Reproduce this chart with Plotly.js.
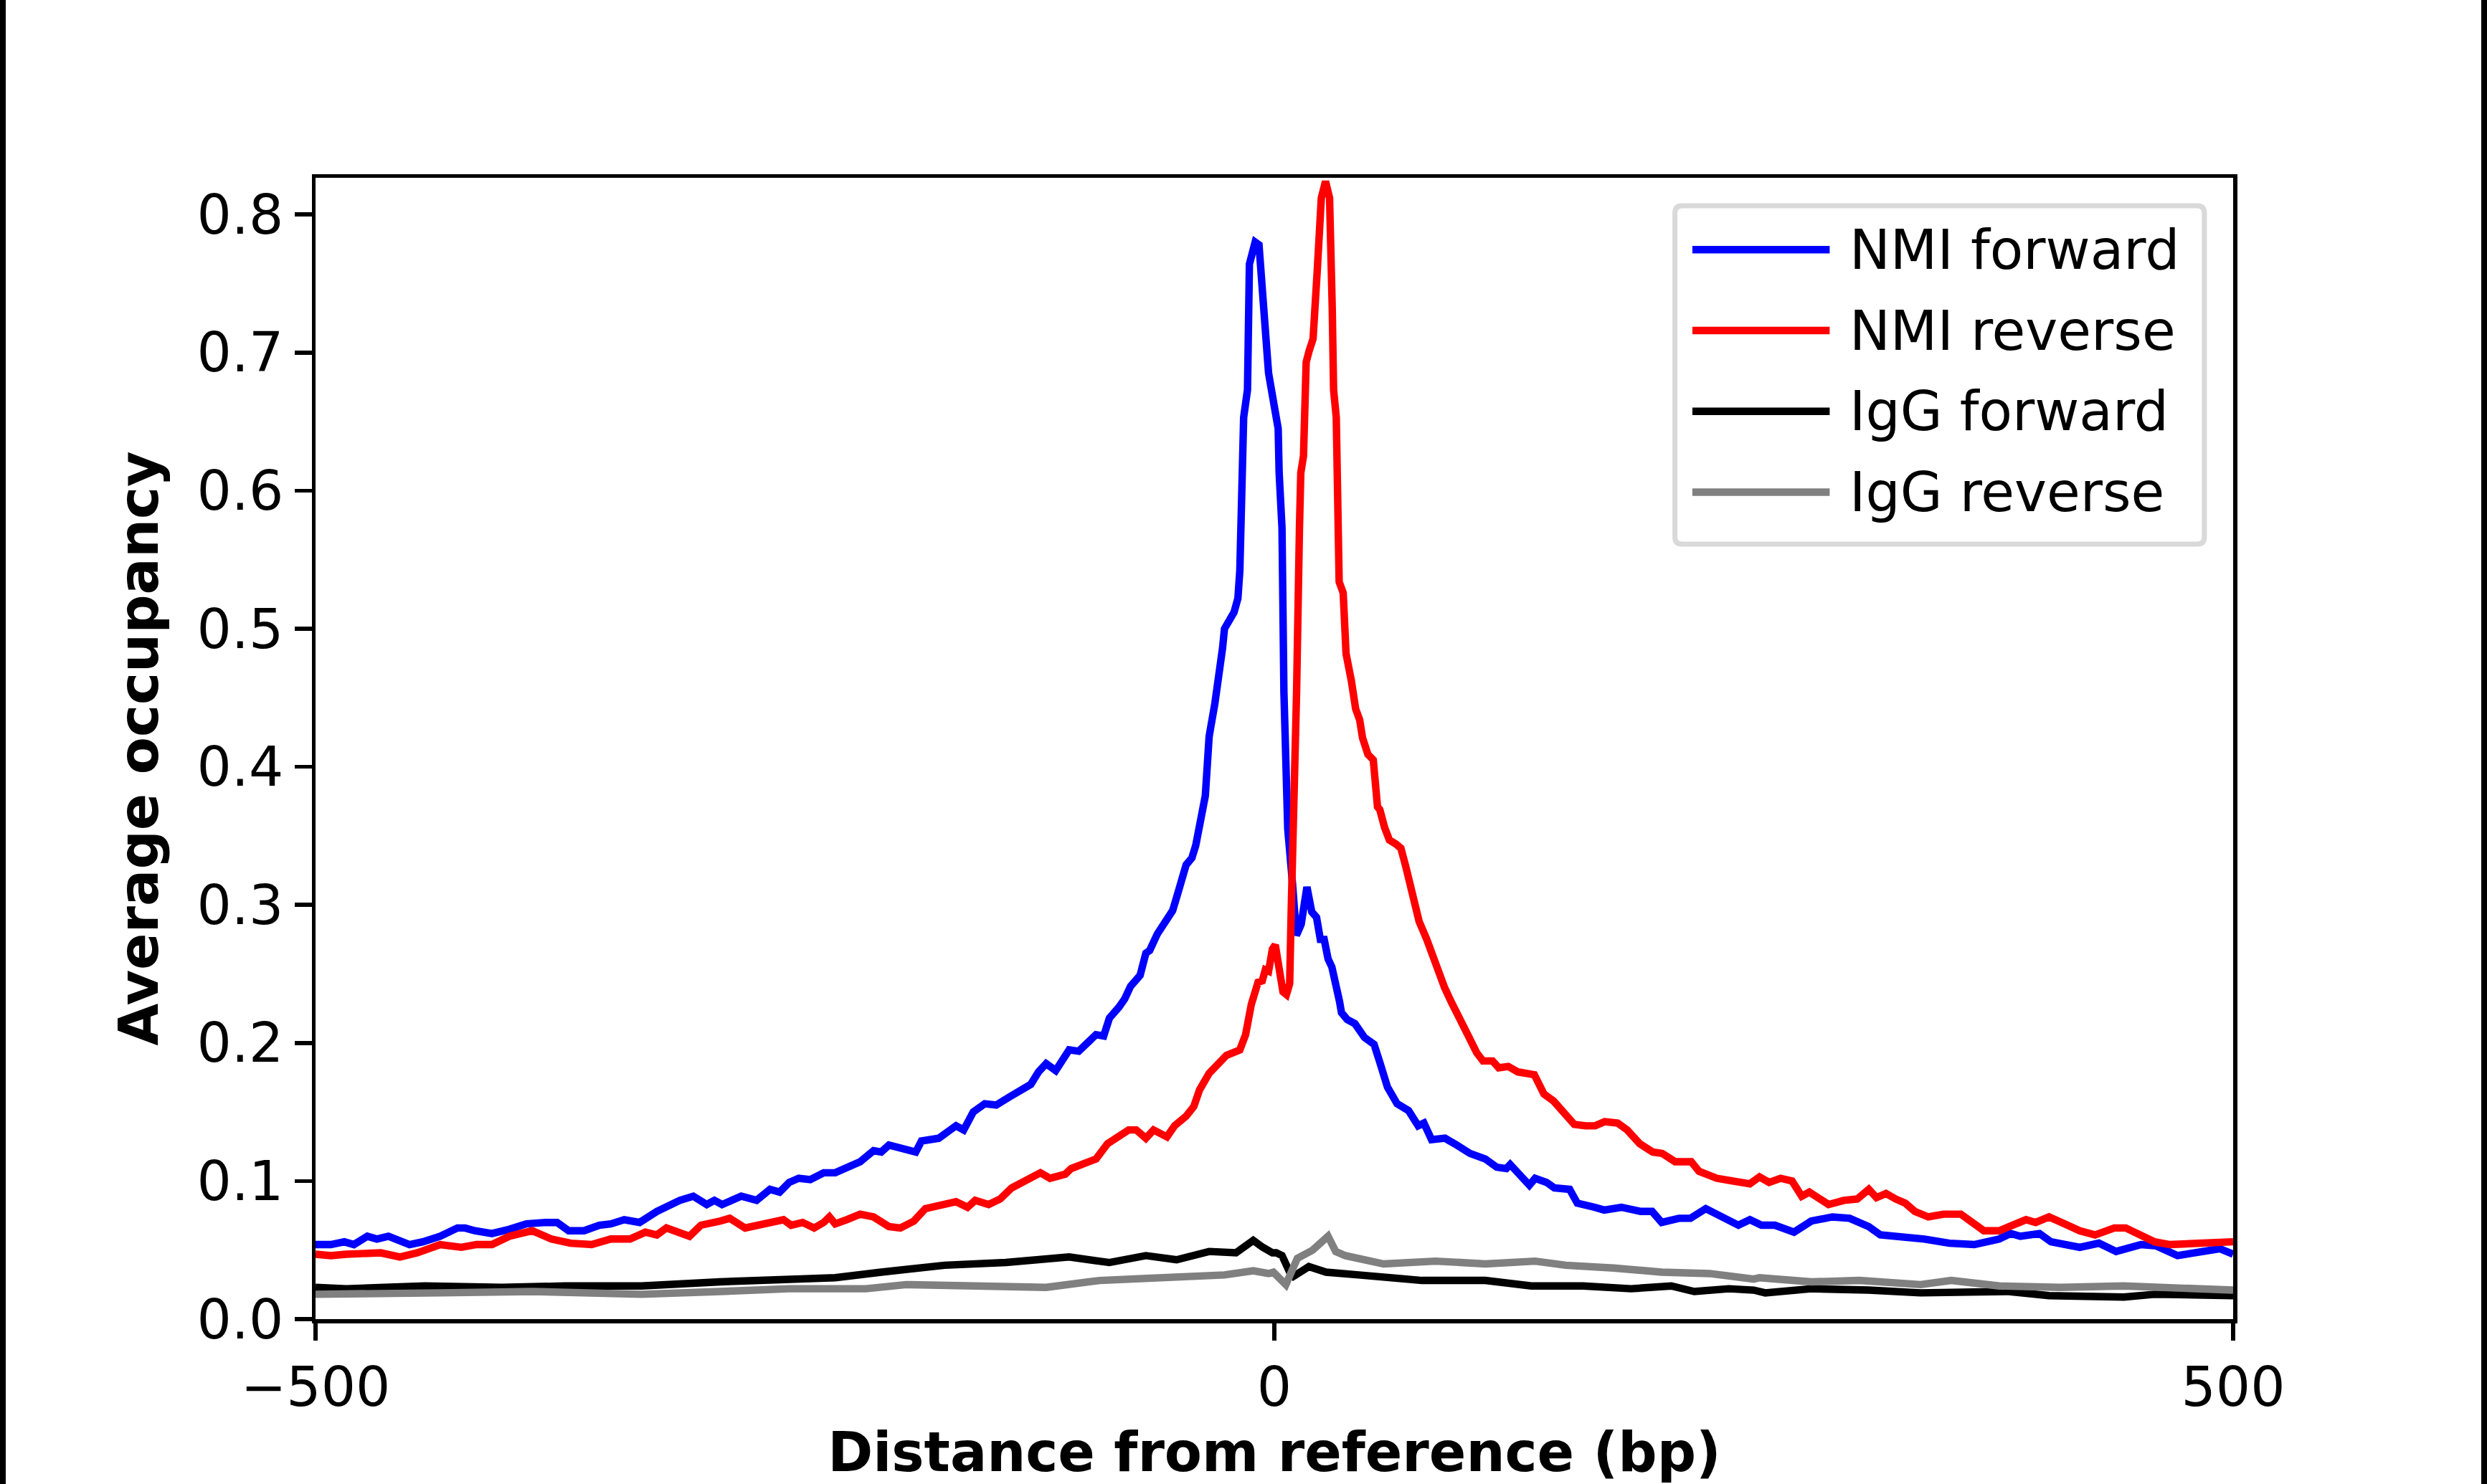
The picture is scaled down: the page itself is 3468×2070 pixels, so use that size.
<!DOCTYPE html>
<html>
<head>
<meta charset="utf-8">
<script src="https://cdn.plot.ly/plotly-3.0.1.min.js"></script>
<style>
  html, body { margin: 0; padding: 0; background: #fff; }
  #frame { width: 3468px; height: 2070px; box-sizing: border-box;
           border-left: 8px solid #000; border-right: 8px solid #000; }
  #chart { width: 3452px; height: 2070px; }
</style>
</head>
<body>
<div id="frame"><div id="chart"></div></div>
<script>
// NMI forward (blue)
nmiFwdX = [-500, -492, -485, -480, -473, -468, -462, -456, -451, -444, -435, -426, -422, -417, -408, -399,
  -390, -380, -374, -368, -360, -352, -346, -339, -331, -322, -310, -303, -296, -292, -288, -278, -270,
  -263, -258, -253, -248, -242, -235, -229, -224, -216, -209, -205, -201, -195, -187, -184, -175, -169,
  -166, -162, -157, -151, -145, -138, -133, -127, -123, -119, -114, -107, -102, -98, -93, -89, -86, -81,
  -78, -75, -70, -67, -65, -61, -56, -53, -50, -48, -46, -43, -41, -36, -34, -31, -29, -27, -26, -24,
  -21, -19, -18, -16, -14, -13, -10, -8, -5, -3, -1, 2, 2.5, 4, 5, 7, 9.5, 11.5, 14, 17, 19.5, 22, 24,
  26, 28, 30, 34, 35, 38, 42, 47, 52, 55, 59, 64, 70, 75, 78, 82, 89, 94, 102, 110, 116, 121, 123, 133,
  136, 142, 146, 154, 158, 167, 172, 181, 191, 197, 202, 211, 217, 225, 234, 242, 248, 254, 261, 271,
  280, 291, 300, 310, 316, 324, 339, 352, 365, 378, 384, 389, 399, 405, 420, 430, 439, 452, 460, 471,
  482, 493, 500];
nmiFwdY = [0.054, 0.054, 0.056, 0.054, 0.060, 0.058, 0.060, 0.057, 0.054, 0.056, 0.060, 0.066, 0.066,
  0.064, 0.062, 0.065, 0.069, 0.070, 0.070, 0.064, 0.064, 0.068, 0.069, 0.072, 0.070, 0.078, 0.086,
  0.089, 0.083, 0.086, 0.083, 0.089, 0.086, 0.094, 0.092, 0.099, 0.102, 0.101, 0.106, 0.106, 0.109,
  0.114, 0.122, 0.121, 0.126, 0.124, 0.121, 0.129, 0.131, 0.137, 0.140, 0.137, 0.150, 0.156, 0.155,
  0.161, 0.165, 0.170, 0.179, 0.185, 0.180, 0.195, 0.194, 0.200, 0.206, 0.205, 0.218, 0.226, 0.232,
  0.241, 0.249, 0.265, 0.267, 0.279, 0.289, 0.296, 0.310, 0.322, 0.329, 0.334, 0.343, 0.379, 0.422,
  0.446, 0.464, 0.486, 0.500, 0.506, 0.512, 0.522, 0.542, 0.653, 0.673, 0.764, 0.780, 0.778, 0.724,
  0.685, 0.669, 0.645, 0.613, 0.573, 0.454, 0.355, 0.315, 0.278, 0.286, 0.313, 0.295, 0.291, 0.275,
  0.275, 0.261, 0.255, 0.230, 0.222, 0.217, 0.214, 0.204, 0.199, 0.186, 0.168, 0.156, 0.151, 0.140,
  0.142, 0.130, 0.131, 0.127, 0.120, 0.116, 0.110, 0.109, 0.112, 0.097, 0.102, 0.099, 0.095, 0.094,
  0.084, 0.081, 0.079, 0.081, 0.078, 0.078, 0.070, 0.073, 0.073, 0.080, 0.073, 0.068, 0.072, 0.068,
  0.068, 0.063, 0.071, 0.074, 0.073, 0.067, 0.061, 0.060, 0.058, 0.055, 0.054, 0.058, 0.062, 0.060,
  0.062, 0.056, 0.052, 0.055, 0.049, 0.054, 0.053, 0.046, 0.048, 0.051, 0.047];

// NMI reverse (red)
nmiRevX = [-500, -492, -484, -474, -466, -456, -447, -435, -424, -416, -408, -399, -387, -377, -367,
  -356, -346, -336, -328, -322, -317, -305, -299, -289, -284, -276, -265, -256, -252, -246, -240, -235,
  -232, -229, -223, -216, -209, -201, -195, -188, -182, -174, -166, -160, -156, -149, -143, -137, -128,
  -122, -117, -109, -106, -98, -93, -87, -81, -76, -72, -67, -63, -56, -52, -46, -42, -39, -34, -29,
  -25, -18, -15, -12, -8.5, -6.3, -4.7, -3, -1, 0.5, 2, 4.5, 6.3, 8, 8.8, 10.2, 11.6, 13.1, 13.8, 15.2,
  16.6, 18.1, 20.2, 22.4, 24.5, 26.7, 28.8, 30.2, 30.9, 32.3, 33.1, 33.8, 35.9, 37.4, 40.2, 42.4, 44.5,
  46, 48.8, 51.6, 53.8, 55, 57.5, 60, 63.5, 66, 68.5, 72, 75.5, 79.5, 82.5, 84.6, 86.8, 88.8, 92.5, 97,
  100.5, 105.5, 108.8, 113.8, 117, 122, 127, 135.6, 140.6, 145.6, 150.6, 156.4, 162.3, 167.3, 172.3,
  179, 184, 190.6, 197.3, 202.3, 209, 217.4, 221.5, 230.7, 239.1, 248, 253, 258, 264, 270, 275, 279,
  289, 297, 304, 310, 314, 319, 324, 329, 334, 341, 349, 358, 363, 370, 378, 386, 392, 397, 404, 412,
  420, 428, 438, 444, 451, 459, 467, 478, 488, 500];
nmiRevY = [0.047, 0.046, 0.047, 0.048, 0.048, 0.045, 0.048, 0.054, 0.052, 0.054, 0.054, 0.060, 0.064,
  0.058, 0.055, 0.054, 0.058, 0.058, 0.063, 0.061, 0.066, 0.060, 0.068, 0.071, 0.073, 0.066, 0.069,
  0.072, 0.068, 0.070, 0.066, 0.070, 0.074, 0.069, 0.072, 0.076, 0.074, 0.067, 0.066, 0.071, 0.080,
  0.083, 0.085, 0.081, 0.086, 0.083, 0.087, 0.095, 0.102, 0.106, 0.102, 0.105, 0.109, 0.114, 0.116,
  0.127, 0.133, 0.137, 0.137, 0.131, 0.137, 0.132, 0.140, 0.147, 0.154, 0.166, 0.178, 0.186, 0.191,
  0.195, 0.206, 0.228, 0.244, 0.245, 0.253, 0.252, 0.268, 0.271, 0.258, 0.237, 0.235, 0.243, 0.296,
  0.414, 0.454, 0.573, 0.613, 0.625, 0.693, 0.701, 0.710, 0.760, 0.812, 0.824, 0.812, 0.732, 0.673,
  0.653, 0.593, 0.534, 0.526, 0.482, 0.462, 0.442, 0.434, 0.421, 0.409, 0.405, 0.371, 0.369, 0.356,
  0.347, 0.344, 0.341, 0.328, 0.308, 0.288, 0.275, 0.263, 0.258, 0.248, 0.240, 0.229, 0.218, 0.207,
  0.193, 0.187, 0.187, 0.182, 0.183, 0.179, 0.177, 0.163, 0.158, 0.150, 0.141, 0.140, 0.140, 0.143,
  0.142, 0.137, 0.127, 0.121, 0.120, 0.114, 0.114, 0.107, 0.102, 0.100, 0.098, 0.103, 0.099, 0.102,
  0.100, 0.089, 0.092, 0.083, 0.086, 0.087, 0.094, 0.088, 0.091, 0.087, 0.084, 0.078, 0.074, 0.076,
  0.076, 0.071, 0.064, 0.064, 0.069, 0.072, 0.070, 0.074, 0.069, 0.064, 0.061, 0.066, 0.066, 0.062,
  0.056, 0.054, 0.055, 0.055, 0.056];

// IgG forward (black)
iggFwdX = [-500, -484, -443, -403, -370, -330, -289, -265, -253, -229, -205, -172, -140, -107, -86, -67,
  -51, -34, -20, -11, -6, -1, 1, 4, 8, 10, 18, 27, 44, 60, 77, 110, 134, 161, 186, 207, 219, 237, 250,
  256, 280, 310, 337, 383, 404, 443, 459, 500];
iggFwdY = [0.023, 0.022, 0.024, 0.023, 0.024, 0.024, 0.027, 0.028, 0.029, 0.030, 0.034, 0.039, 0.041,
  0.045, 0.041, 0.046, 0.043, 0.049, 0.048, 0.057, 0.052, 0.048, 0.048, 0.046, 0.034, 0.031, 0.038,
  0.034, 0.032, 0.030, 0.028, 0.028, 0.024, 0.024, 0.022, 0.024, 0.020, 0.022, 0.021, 0.019, 0.022,
  0.021, 0.019, 0.020, 0.017, 0.016, 0.018, 0.017];

// IgG reverse (grey)
iggRevX = [-500, -476, -435, -387, -330, -289, -253, -213, -192, -156, -119, -91, -59, -26, -11, -3,
  -0.5, 6, 12, 20, 28, 32, 37, 49, 57, 84, 110, 136, 152, 177, 202, 227, 250, 253, 280, 305, 337, 353,
  378, 410, 443, 500];
iggRevY = [0.018, 0.018, 0.019, 0.020, 0.018, 0.020, 0.022, 0.022, 0.025, 0.024, 0.023, 0.028, 0.030,
  0.032, 0.035, 0.033, 0.034, 0.025, 0.044, 0.050, 0.060, 0.049, 0.046, 0.043, 0.040, 0.042, 0.040,
  0.042, 0.039, 0.037, 0.034, 0.033, 0.029, 0.030, 0.027, 0.028, 0.025, 0.028, 0.024, 0.023, 0.024,
  0.021];

seriesNames = ['NMI forward', 'NMI reverse', 'IgG forward', 'IgG reverse'];
seriesColors = ['#0000ff', '#ff0000', '#000000', '#808080'];

xTickVals = [-500, 0, 500];
xTickText = ['\u2212500', '0', '500'];
yTickVals = [0, 0.1, 0.2, 0.3, 0.4, 0.5, 0.6, 0.7, 0.8];

FONT = 'DejaVu Sans, Verdana, sans-serif';
LINE_W = 10.4;

CHART = document.getElementById('chart');
xs = [nmiFwdX, nmiRevX, iggFwdX, iggRevX];
ys = [nmiFwdY, nmiRevY, iggFwdY, iggRevY];
traces = [];
for (var i = 0; i < 4; i++) {
  traces.push({
    x: xs[i],
    y: ys[i],
    type: 'scatter',
    mode: 'lines',
    name: seriesNames[i],
    line: {color: seriesColors[i], width: LINE_W},
  });
}

// matplotlib-style legend box (rounded frame, long line samples), in paper coords
function roundedRect(x0, y0, x1, y1, rx, ry) {
  return 'M' + (x0 + rx) + ',' + y1 +
    ' L' + (x1 - rx) + ',' + y1 + ' Q' + x1 + ',' + y1 + ' ' + x1 + ',' + (y1 - ry) +
    ' L' + x1 + ',' + (y0 + ry) + ' Q' + x1 + ',' + y0 + ' ' + (x1 - rx) + ',' + y0 +
    ' L' + (x0 + rx) + ',' + y0 + ' Q' + x0 + ',' + y0 + ' ' + x0 + ',' + (y0 + ry) +
    ' L' + x0 + ',' + (y1 - ry) + ' Q' + x0 + ',' + y1 + ' ' + (x0 + rx) + ',' + y1 + ' Z';
}
shapes = [{
  type: 'path', xref: 'paper', yref: 'paper', layer: 'above',
  path: roundedRect(0.7089, 0.6790, 0.9850, 0.9755, 0.0037, 0.0063),
  fillcolor: 'rgba(255,255,255,0.8)',
  line: {color: '#d9d9d9', width: 7},
}];
annotations = [];
legendRowY = [0.9370, 0.8662, 0.7954, 0.7246];
for (var k = 0; k < 4; k++) {
  shapes.push({
    type: 'line', xref: 'paper', yref: 'paper', layer: 'above',
    x0: 0.7180, x1: 0.7896, y0: legendRowY[k], y1: legendRowY[k],
    line: {color: seriesColors[k], width: LINE_W},
  });
  annotations.push({
    xref: 'paper', yref: 'paper', x: 0.7990, y: legendRowY[k],
    xanchor: 'left', yanchor: 'middle', showarrow: false,
    text: seriesNames[k],
    font: {family: FONT, size: 76, color: '#000'},
  });
}

layout = {
  width: 3452,
  height: 2070,
  margin: {l: 432, r: 346, t: 248, b: 230, pad: 0},
  paper_bgcolor: '#ffffff',
  plot_bgcolor: '#ffffff',
  font: {family: FONT, size: 76, color: '#000000'},
  showlegend: false,
  shapes: shapes,
  annotations: annotations,
  xaxis: {
    range: [-500, 500],
    tickvals: xTickVals,
    ticktext: xTickText,
    ticks: 'outside', ticklen: 24, tickwidth: 5.5, tickcolor: '#000',
    showline: true, linecolor: '#000', linewidth: 5.5, mirror: true,
    showgrid: false, zeroline: false,
    tickfont: {family: FONT, size: 76, color: '#000'},
    title: {
      text: 'Distance from reference (bp)',
      font: {family: FONT, size: 76, color: '#000', weight: 'bold'},
      standoff: 27,
    },
  },
  yaxis: {
    range: [0, 0.8266],
    tickvals: yTickVals,
    tickformat: '.1f',
    ticks: 'outside', ticklen: 24, tickwidth: 5.5, tickcolor: '#000',
    showline: true, linecolor: '#000', linewidth: 5.5, mirror: true,
    showgrid: false, zeroline: false,
    tickfont: {family: FONT, size: 76, color: '#000'},
    title: {
      text: 'Average occupancy',
      font: {family: FONT, size: 76, color: '#000', weight: 'bold'},
      standoff: 31,
    },
  },
};

Plotly.newPlot(CHART, traces, layout, {staticPlot: true});
</script>
</body>
</html>
